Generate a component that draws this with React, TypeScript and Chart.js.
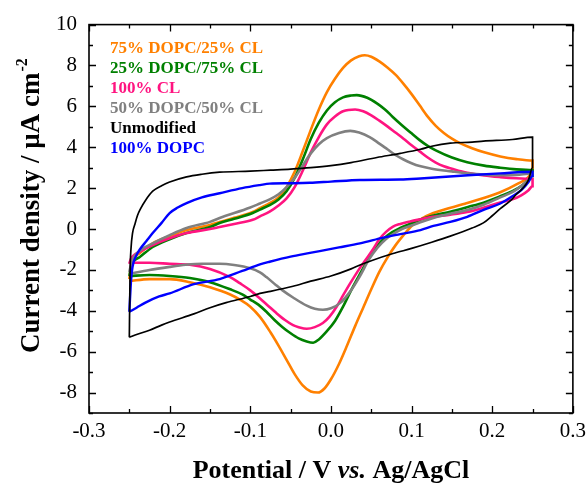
import React, { useEffect, useRef } from "react";
import { Chart, registerables } from "chart.js";

Chart.register(...registerables);

// ---------- axis ticks ----------
const xTicks = [-0.3, -0.2, -0.1, 0, 0.1, 0.2, 0.3];
const xMinorTicks = [-0.25, -0.15, -0.05, 0.05, 0.15, 0.25];
const yTicks = [-8, -6, -4, -2, 0, 2, 4, 6, 8, 10];
const yMinorTicks = [-9, -7, -5, -3, -1, 1, 3, 5, 7, 9];
const xMin = -0.3, xMax = 0.3, yMin = -9, yMax = 10;

// ---------- series (potential V, current density µA cm^-2) ----------
const dopc75cl25: [number, number][] = [
  [-0.25,-2.45],[-0.248,-1.9],[-0.245,-1.5],[-0.237,-1.17],[-0.221,-0.7],[-0.2,-0.35],[-0.179,-0.05],[-0.15,0.2],[-0.138,0.34],[-0.12,0.55],[-0.097,0.83],[-0.088,1.02],[-0.076,1.27],[-0.065,1.55],[-0.055,2.05],[-0.045,2.8],[-0.035,3.8],[-0.025,4.85],[-0.015,5.85],[-0.005,6.7],[0.005,7.35],[0.015,7.88],[0.025,8.25],[0.035,8.45],[0.042,8.5],[0.05,8.43],[0.06,8.2],[0.07,7.9],[0.08,7.55],[0.09,7.1],[0.1,6.6],[0.11,6.05],[0.12,5.5],[0.13,5.05],[0.14,4.7],[0.15,4.42],[0.16,4.2],[0.175,3.95],[0.19,3.75],[0.21,3.55],[0.23,3.42],[0.25,3.35],
  [0.25,2.9],[0.245,2.55],[0.233,2.24],[0.21,1.8],[0.169,1.27],[0.127,0.78],[0.11,0.45],[0.1,0.15],[0.09,-0.3],[0.08,-0.8],[0.07,-1.4],[0.06,-2.1],[0.05,-2.95],[0.04,-3.85],[0.03,-4.75],[0.02,-5.7],[0.01,-6.6],[0,-7.35],[-0.008,-7.8],[-0.016,-8.0],[-0.025,-7.95],[-0.035,-7.65],[-0.045,-7.1],[-0.055,-6.4],[-0.065,-5.7],[-0.075,-5.05],[-0.088,-4.3],[-0.1,-3.8],[-0.113,-3.45],[-0.125,-3.2],[-0.15,-2.85],[-0.175,-2.6],[-0.2,-2.45],[-0.225,-2.45],[-0.25,-2.55]
];

const dopc25cl75: [number, number][] = [
  [-0.25,-2.3],[-0.248,-1.9],[-0.245,-1.6],[-0.237,-1.37],[-0.221,-0.88],[-0.2,-0.5],[-0.179,-0.2],[-0.15,0.1],[-0.138,0.29],[-0.12,0.5],[-0.097,0.78],[-0.088,0.95],[-0.076,1.17],[-0.065,1.45],[-0.055,1.85],[-0.045,2.5],[-0.035,3.4],[-0.025,4.4],[-0.015,5.2],[-0.005,5.8],[0.005,6.2],[0.015,6.44],[0.025,6.53],[0.032,6.55],[0.045,6.42],[0.057,6.15],[0.067,5.85],[0.077,5.47],[0.088,5.08],[0.1,4.68],[0.11,4.35],[0.12,4.07],[0.13,3.85],[0.15,3.5],[0.169,3.27],[0.19,3.1],[0.21,3.0],[0.23,2.92],[0.25,2.88],
  [0.25,2.6],[0.245,2.4],[0.236,2.1],[0.225,1.85],[0.21,1.6],[0.19,1.3],[0.169,1.07],[0.148,0.85],[0.127,0.66],[0.11,0.45],[0.098,0.25],[0.086,0.05],[0.076,-0.15],[0.066,-0.45],[0.056,-0.9],[0.046,-1.5],[0.036,-2.2],[0.025,-3.0],[0.015,-3.8],[0.005,-4.5],[-0.005,-5.0],[-0.015,-5.4],[-0.022,-5.56],[-0.03,-5.5],[-0.04,-5.35],[-0.05,-5.1],[-0.06,-4.8],[-0.07,-4.45],[-0.08,-4.05],[-0.09,-3.7],[-0.1,-3.45],[-0.11,-3.2],[-0.125,-2.95],[-0.15,-2.6],[-0.175,-2.4],[-0.2,-2.3],[-0.225,-2.25],[-0.25,-2.3]
];

const cl100: [number, number][] = [
  [-0.25,-1.7],[-0.248,-1.45],[-0.245,-1.3],[-0.237,-1.1],[-0.221,-0.78],[-0.2,-0.45],[-0.179,-0.2],[-0.15,0.0],[-0.138,0.1],[-0.12,0.25],[-0.097,0.45],[-0.088,0.62],[-0.076,0.85],[-0.065,1.15],[-0.055,1.5],[-0.045,2.05],[-0.035,2.85],[-0.025,3.75],[-0.015,4.5],[-0.005,5.12],[0.005,5.5],[0.015,5.76],[0.03,5.85],[0.04,5.76],[0.05,5.56],[0.06,5.3],[0.07,5.02],[0.08,4.72],[0.09,4.42],[0.1,4.1],[0.11,3.8],[0.12,3.5],[0.13,3.25],[0.14,3.07],[0.15,2.95],[0.169,2.75],[0.19,2.62],[0.21,2.54],[0.23,2.48],[0.25,2.45],
  [0.25,2.1],[0.245,1.9],[0.236,1.65],[0.225,1.45],[0.21,1.3],[0.19,1.05],[0.169,0.83],[0.148,0.7],[0.127,0.6],[0.11,0.47],[0.098,0.37],[0.086,0.25],[0.077,0.12],[0.068,-0.15],[0.06,-0.5],[0.052,-1.0],[0.044,-1.45],[0.036,-1.9],[0.024,-2.65],[0.015,-3.25],[0.007,-3.8],[-0.002,-4.3],[-0.01,-4.6],[-0.02,-4.8],[-0.03,-4.88],[-0.04,-4.8],[-0.047,-4.7],[-0.057,-4.45],[-0.068,-4.1],[-0.078,-3.75],[-0.088,-3.4],[-0.1,-3.0],[-0.113,-2.65],[-0.125,-2.35],[-0.15,-1.95],[-0.175,-1.75],[-0.2,-1.7],[-0.225,-1.65],[-0.25,-1.65]
];

const dopc50cl50: [number, number][] = [
  [-0.25,-2.1],[-0.247,-1.6],[-0.243,-1.3],[-0.237,-1.05],[-0.221,-0.7],[-0.2,-0.3],[-0.179,0.05],[-0.15,0.35],[-0.138,0.54],[-0.1,1.05],[-0.088,1.25],[-0.076,1.45],[-0.065,1.7],[-0.055,2.05],[-0.045,2.5],[-0.035,3.1],[-0.025,3.7],[-0.015,4.15],[-0.005,4.45],[0.01,4.7],[0.024,4.8],[0.035,4.72],[0.048,4.5],[0.06,4.18],[0.07,3.9],[0.08,3.62],[0.09,3.4],[0.1,3.22],[0.11,3.08],[0.125,2.95],[0.15,2.82],[0.169,2.73],[0.19,2.66],[0.21,2.63],[0.23,2.65],[0.25,2.72],
  [0.25,2.6],[0.245,2.4],[0.236,2.1],[0.225,1.8],[0.21,1.55],[0.19,1.2],[0.169,0.93],[0.148,0.75],[0.127,0.54],[0.11,0.32],[0.1,0.17],[0.088,0.0],[0.078,-0.22],[0.068,-0.5],[0.058,-0.9],[0.047,-1.5],[0.036,-2.3],[0.024,-3.05],[0.012,-3.6],[0,-3.88],[-0.01,-3.95],[-0.02,-3.9],[-0.03,-3.75],[-0.047,-3.35],[-0.06,-3.0],[-0.068,-2.75],[-0.08,-2.35],[-0.088,-2.12],[-0.1,-1.92],[-0.12,-1.76],[-0.138,-1.7],[-0.16,-1.7],[-0.18,-1.75],[-0.2,-1.85],[-0.225,-2.0],[-0.25,-2.2]
];

const unmodified: [number, number][] = [
  [-0.25,-5.3],[-0.2495,-3.5],[-0.249,-2.0],[-0.248,-1.0],[-0.246,-0.2],[-0.243,0.25],[-0.24,0.65],[-0.236,1.0],[-0.23,1.4],[-0.221,1.85],[-0.21,2.12],[-0.2,2.3],[-0.179,2.55],[-0.16,2.68],[-0.138,2.78],[-0.1,2.83],[-0.075,2.88],[-0.05,2.93],[-0.025,3.0],[0,3.1],[0.025,3.25],[0.057,3.5],[0.086,3.7],[0.111,3.9],[0.125,4.05],[0.148,4.2],[0.175,4.25],[0.189,4.3],[0.225,4.38],[0.25,4.5],
  [0.25,3.0],[0.245,2.4],[0.238,2.0],[0.23,1.7],[0.223,1.4],[0.21,1.0],[0.2,0.65],[0.189,0.3],[0.175,0.05],[0.148,-0.35],[0.125,-0.65],[0.1,-0.95],[0.077,-1.2],[0.05,-1.55],[0.036,-1.76],[0.025,-1.95],[0,-2.3],[-0.025,-2.55],[-0.047,-2.8],[-0.075,-3.05],[-0.088,-3.15],[-0.1,-3.3],[-0.13,-3.6],[-0.15,-3.85],[-0.17,-4.15],[-0.2,-4.55],[-0.21,-4.7],[-0.225,-4.95],[-0.24,-5.15],[-0.25,-5.3]
];

const dopc100: [number, number][] = [
  [-0.25,-4.05],[-0.249,-3.3],[-0.248,-2.6],[-0.246,-1.85],[-0.242,-1.35],[-0.237,-1.0],[-0.229,-0.6],[-0.221,-0.2],[-0.21,0.3],[-0.2,0.78],[-0.19,1.05],[-0.179,1.27],[-0.16,1.55],[-0.138,1.75],[-0.11,2.0],[-0.088,2.15],[-0.076,2.22],[-0.05,2.24],[-0.026,2.26],[0,2.32],[0.036,2.4],[0.086,2.42],[0.111,2.47],[0.17,2.63],[0.21,2.72],[0.25,2.8],
  [0.25,2.6],[0.245,2.3],[0.236,1.9],[0.225,1.6],[0.21,1.25],[0.19,0.95],[0.169,0.6],[0.148,0.35],[0.127,0.15],[0.111,-0.05],[0.086,-0.25],[0.065,-0.42],[0.036,-0.7],[0.01,-0.9],[-0.026,-1.17],[-0.05,-1.35],[-0.076,-1.6],[-0.088,-1.73],[-0.11,-2.05],[-0.138,-2.45],[-0.17,-2.7],[-0.2,-3.15],[-0.213,-3.3],[-0.23,-3.6],[-0.241,-3.85],[-0.25,-4.05]
];

// ---------- legend / series styling ----------
const seriesLabels = ["75% DOPC/25% CL", "25% DOPC/75% CL", "100% CL", "50% DOPC/50% CL", "Unmodified", "100% DOPC"];
const seriesColors = ["#FF8000", "#008000", "#FF1480", "#808080", "#000000", "#0000FF"];
const seriesWidths = [2.6, 2.6, 2.6, 2.6, 1.7, 2.4];
const seriesData = [dopc75cl25, dopc25cl75, cl100, dopc50cl50, unmodified, dopc100];
const drawOrder = [4, 5, 3, 2, 1, 0];

const SERIF = '"Liberation Serif", "Times New Roman", serif';

const decorPlugin = {
  id: "decor",
  afterDraw(chart: any) {
    const { ctx, chartArea, scales } = chart;
    const { left, right, top, bottom } = chartArea;
    const xs = scales.x, ys = scales.y;
    ctx.save();
    ctx.strokeStyle = "#000";
    ctx.lineWidth = 1.6;
    ctx.strokeRect(left, top, right - left, bottom - top);
    ctx.lineWidth = 1.3;
    const major = 7, minor = 4;
    ctx.beginPath();
    const xt = (v: number, len: number) => {
      const p = Math.round(xs.getPixelForValue(v)) + 0.5;
      ctx.moveTo(p, bottom); ctx.lineTo(p, bottom - len);
      ctx.moveTo(p, top); ctx.lineTo(p, top + len);
    };
    const yt = (v: number, len: number) => {
      const p = Math.round(ys.getPixelForValue(v)) + 0.5;
      ctx.moveTo(left, p); ctx.lineTo(left + len, p);
      ctx.moveTo(right, p); ctx.lineTo(right - len, p);
    };
    xTicks.forEach((v) => xt(v, major));
    xMinorTicks.forEach((v) => xt(v, minor));
    yTicks.forEach((v) => yt(v, major));
    yMinorTicks.forEach((v) => yt(v, minor));
    ctx.stroke();

    // legend
    ctx.font = `bold 17px ${SERIF}`;
    ctx.textAlign = "left";
    ctx.textBaseline = "alphabetic";
    seriesLabels.forEach((lab, i) => {
      ctx.fillStyle = seriesColors[i];
      ctx.fillText(lab, 110, 53 + i * 20);
    });

    // x title
    ctx.fillStyle = "#000";
    const p1 = "Potential / V ", p2 = "vs.", p3 = " Ag/AgCl";
    const fB = `bold 26px ${SERIF}`, fBI = `italic bold 26px ${SERIF}`;
    ctx.font = fB; const w1 = ctx.measureText(p1).width; const w3 = ctx.measureText(p3).width;
    ctx.font = fBI; const w2 = ctx.measureText(p2).width;
    const cx = (left + right) / 2;
    let sx = cx - (w1 + w2 + w3) / 2;
    const by = 478;
    ctx.font = fB; ctx.fillText(p1, sx, by); sx += w1;
    ctx.font = fBI; ctx.fillText(p2, sx, by); sx += w2;
    ctx.font = fB; ctx.fillText(p3, sx, by);

    // y title
    ctx.save();
    ctx.translate(39, 353);
    ctx.rotate(-Math.PI / 2);
    ctx.font = `bold 27px ${SERIF}`;
    const main = "Current density / \u00B5A cm";
    ctx.fillText(main, 0, 0);
    const mw = ctx.measureText(main).width;
    ctx.font = `bold 16px ${SERIF}`;
    ctx.fillText("-2", mw + 1, -12);
    ctx.restore();

    ctx.restore();
  },
};

export default function App() {
  const ref = useRef<HTMLCanvasElement | null>(null);
  useEffect(() => {
    if (!ref.current) return;
    const datasets = drawOrder.map((i) => ({
      label: seriesLabels[i],
      data: seriesData[i].map(([x, y]) => ({ x, y })),
      borderColor: seriesColors[i],
      backgroundColor: seriesColors[i],
      borderWidth: seriesWidths[i],
      showLine: true,
      pointRadius: 0,
      cubicInterpolationMode: "monotone",
      tension: 0.4,
      fill: false,
    }));
    const chart = new Chart(ref.current, {
      type: "scatter",
      data: { datasets },
      options: {
        animation: false,
        responsive: false,
        devicePixelRatio: 1,
        layout: { padding: { left: 0, right: 12, top: 23, bottom: 0 } },
        plugins: { legend: { display: false }, tooltip: { enabled: false }, title: { display: false } },
        scales: {
          x: {
            type: "linear",
            min: xMin,
            max: xMax,
            grid: { display: false, drawTicks: false },
            border: { display: false },
            afterBuildTicks: (s: any) => { s.ticks = xTicks.map((v) => ({ value: v })); },
            afterFit: (s: any) => { s.height = 71; },
            ticks: {
              color: "#000",
              padding: 2,
              maxRotation: 0,
              font: { family: SERIF, size: 21, lineHeight: 1.6 },
              callback: (v: any) => Number(v).toFixed(1),
            },
          },
          y: {
            type: "linear",
            min: yMin,
            max: yMax,
            grid: { display: false, drawTicks: false },
            border: { display: false },
            afterBuildTicks: (s: any) => { s.ticks = yTicks.map((v) => ({ value: v })); },
            afterFit: (s: any) => { s.width = 89; },
            ticks: {
              color: "#000",
              padding: 12,
              font: { family: SERIF, size: 21 },
              callback: (v: any) => String(v),
            },
          },
        },
      },
      plugins: [decorPlugin],
    });
    return () => chart.destroy();
  }, []);
  return (
    <div style={{ position: "absolute", left: 0, top: 0, width: 588, height: 484, background: "#fff" }}>
      <canvas ref={ref} width={588} height={484} style={{ width: 588, height: 484, display: "block" }} />
    </div>
  );
}
